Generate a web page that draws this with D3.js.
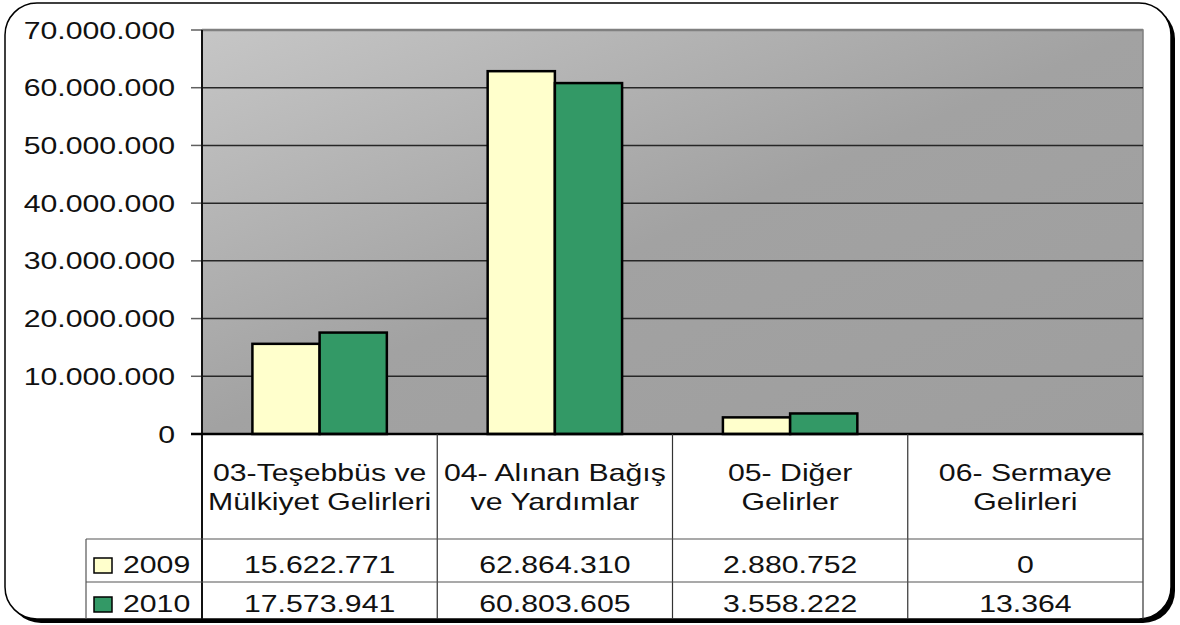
<!DOCTYPE html>
<html>
<head>
<meta charset="utf-8">
<script src="https://cdn.jsdelivr.net/npm/d3@7"></script>
<style>
  html, body { margin: 0; padding: 0; background: #fff; }
  svg text { font-family: "Liberation Sans", Arial, sans-serif; font-size: 24px; fill: #111; }
</style>
</head>
<body>
<div id="vis"><svg></svg></div>
<script>
// chart data
const categories = ["03-Teşebbüs ve Mülkiyet Gelirleri", "04- Alınan Bağış ve Yardımlar", "05- Diğer Gelirler", "06- Sermaye Gelirleri"];
const categoryLines = [
  ["03-Teşebbüs ve", "Mülkiyet Gelirleri"],
  ["04- Alınan Bağış", "ve Yardımlar"],
  ["05- Diğer", "Gelirler"],
  ["06- Sermaye", "Gelirleri"]
];
const years = ["2009", "2010"];
const values2009 = [15622771, 62864310, 2880752, 0];
const values2010 = [17573941, 60803605, 3558222, 13364];
const yTicks = [0, 10000000, 20000000, 30000000, 40000000, 50000000, 60000000, 70000000];
const colors = ["#ffffcc", "#339966"];

const W = 1180, H = 625;
const plot = {left: 202, right: 1143, top: 30, bottom: 434};
const sx = 1.26; // text in the picture is stretched horizontally

const tr = d3.formatLocale({decimal: ",", thousands: ".", grouping: [3], currency: ["", ""]});
const fmt = tr.format(",d");

const series = years.map((yr, i) => ({
  key: yr,
  values: categories.map((c, j) => ({cat: c, value: [values2009, values2010][i][j]}))
}));

const svg = d3.select("#vis").select("svg").attr("width", W).attr("height", H);

const defs = svg.append("defs");
const grad = defs.append("linearGradient").attr("id", "bg")
  .attr("x1", 0).attr("y1", 0).attr("x2", 1).attr("y2", 1);
grad.append("stop").attr("offset", 0).attr("stop-color", "#c6c6c6");
grad.append("stop").attr("offset", 0.5).attr("stop-color", "#a2a2a2");
grad.append("stop").attr("offset", 1).attr("stop-color", "#9e9e9e");

// frame with shadow
svg.append("rect").attr("x", 9).attr("y", 7).attr("width", 1166).attr("height", 616)
  .attr("rx", 32).attr("fill", "#000");
svg.append("rect").attr("x", 5).attr("y", 3).attr("width", 1166).attr("height", 616)
  .attr("rx", 32).attr("fill", "#fff").attr("stroke", "#000").attr("stroke-width", 1.5);

const x = d3.scaleBand().domain(categories).range([plot.left, plot.right]);
const x1 = d3.scaleBand().domain(years).range([0, x.bandwidth()]).paddingOuter(0.75);
const y = d3.scaleLinear().domain([0, 70000000]).range([plot.bottom, plot.top]);
const color = d3.scaleOrdinal().domain(years).range(colors);

function stretchText(sel, px, py, txt, anchor) {
  return sel.append("text")
    .attr("transform", `translate(${px},${py}) scale(${sx},1)`)
    .attr("text-anchor", anchor || "middle")
    .text(txt);
}

// plot background
svg.append("rect").attr("x", plot.left).attr("y", plot.top)
  .attr("width", plot.right - plot.left).attr("height", plot.bottom - plot.top)
  .attr("fill", "url(#bg)").attr("stroke", "#7f7f7f").attr("stroke-width", 1.5);

// gridlines
svg.append("g").selectAll("line").data(yTicks.filter(d => d > 0)).join("line")
  .attr("x1", plot.left).attr("x2", plot.right)
  .attr("y1", d => y(d)).attr("y2", d => y(d))
  .attr("stroke", d => d === 70000000 ? "#808080" : "#262626").attr("stroke-width", d => d === 70000000 ? 2.5 : 1.5);

// y axis
const yAxis = svg.append("g");
yAxis.selectAll("line.tick").data(yTicks).join("line").attr("class", "tick")
  .attr("x1", plot.left - 11).attr("x2", plot.left)
  .attr("y1", d => y(d)).attr("y2", d => y(d))
  .attr("stroke", "#606060").attr("stroke-width", 1.5);
yTicks.forEach(t => stretchText(yAxis, 175, y(t) + 8.5, fmt(t), "end"));
yAxis.append("line").attr("x1", plot.left).attr("x2", plot.left)
  .attr("y1", plot.top).attr("y2", 619)
  .attr("stroke", "#111").attr("stroke-width", 2);

// bars (skip the outline on bars too thin to see)
svg.append("g").selectAll("g").data(series).join("g")
  .attr("fill", d => color(d.key))
  .selectAll("rect").data(d => d.values.map(v => Object.assign({key: d.key}, v))).join("rect")
  .attr("x", d => x(d.cat) + x1(d.key))
  .attr("y", d => y(d.value))
  .attr("width", x1.bandwidth())
  .attr("height", d => y(0) - y(d.value))
  .attr("stroke", d => (y(0) - y(d.value)) < 1 ? "none" : "#000").attr("stroke-width", 2.5);

// baseline
svg.append("line").attr("x1", plot.left - 11).attr("x2", plot.right)
  .attr("y1", y(0)).attr("y2", y(0)).attr("stroke", "#000").attr("stroke-width", 2.5);

// data table
const table = svg.append("g");
const rowTop = [539, 582];
const tableBottom = 619;
categories.forEach((c, i) => {
  if (i > 0) {
    table.append("line").attr("x1", x(c)).attr("x2", x(c))
      .attr("y1", plot.bottom).attr("y2", tableBottom)
      .attr("stroke", "#333").attr("stroke-width", 1.2);
  }
});
table.append("line").attr("x1", plot.right).attr("x2", plot.right)
  .attr("y1", plot.bottom).attr("y2", tableBottom).attr("stroke", "#333").attr("stroke-width", 1.2);
table.append("line").attr("x1", 86).attr("x2", 86)
  .attr("y1", rowTop[0]).attr("y2", tableBottom).attr("stroke", "#555").attr("stroke-width", 1.2);
rowTop.forEach(ry => {
  table.append("line").attr("x1", 86).attr("x2", plot.right)
    .attr("y1", ry).attr("y2", ry).attr("stroke", "#555").attr("stroke-width", 1.2);
});

categoryLines.forEach((lines, i) => {
  const cx = x(categories[i]) + x.bandwidth() / 2;
  lines.forEach((ln, k) => stretchText(table, cx, 481 + k * 29, ln));
});

series.forEach((s, i) => {
  const base = [573, 612][i];
  table.append("rect").attr("x", 94).attr("y", base - 15).attr("width", 18).attr("height", 15)
    .attr("fill", color(s.key)).attr("stroke", "#000").attr("stroke-width", 1.5);
  stretchText(table, 123, base, s.key, "start");
  s.values.forEach(v => stretchText(table, x(v.cat) + x.bandwidth() / 2, base, fmt(v.value)));
});
</script>
</body>
</html>
